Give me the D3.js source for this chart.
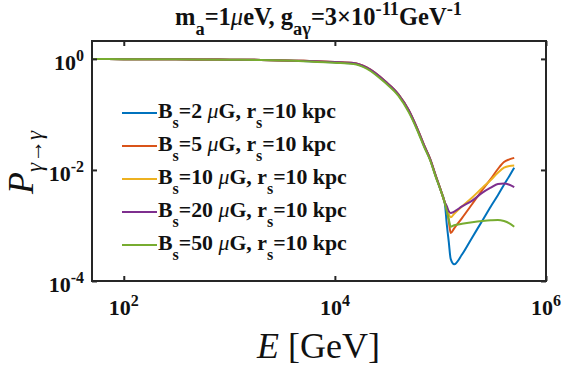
<!DOCTYPE html>
<html><head><meta charset="utf-8">
<script src="https://cdn.jsdelivr.net/npm/d3@7"></script>
<style>
html,body{margin:0;padding:0;background:#fff;}
svg{display:block;}
</style></head>
<body><svg id="c" width="567" height="367"></svg>
<script>
// ---- data ----
const energy = [50, 100, 200, 500, 1000, 2000, 5000, 1e4, 1.5e4, 2e4, 3e4, 4e4, 5e4, 6e4, 7e4, 8e4, 9e4,
  1e5, 1.1e5, 1.15e5, 1.2e5, 1.25e5, 1.35e5, 1.6e5, 2e5, 2.5e5, 3e5, 3.5e5, 4e5, 4.5e5, 5e5];
const Bvalues = ["2","5","10","20","50"];
const rValue = "10";
const pBlue = [0.995,0.99,0.985,0.98,0.97,0.96,0.92,0.865,0.83,0.69,0.385,0.224,0.116,0.055,0.027,0.0152,0.0078,
  0.0044,0.0025,0.00102,5.0e-4,2.5e-4,2.0e-4,3.0e-4,6.1e-4,0.00123,0.0022,0.0035,0.0054,0.0078,0.011];
const pOrange = [0.995,0.99,0.985,0.98,0.97,0.96,0.925,0.875,0.84,0.70,0.395,0.23,0.12,0.057,0.028,0.0157,0.0080,
  0.0045,0.0026,0.0019,0.0012,7.3e-4,8.9e-4,0.00136,0.00244,0.0044,0.0069,0.0104,0.0139,0.0155,0.0165];
const pYellow = [0.995,0.99,0.985,0.98,0.97,0.96,0.922,0.87,0.835,0.695,0.39,0.227,0.118,0.056,0.0275,0.0154,0.0079,
  0.0045,0.0026,0.0021,0.0016,0.0014,0.00163,0.0022,0.0032,0.0048,0.0066,0.0089,0.011,0.0118,0.012];
const pPurple = [0.995,0.99,0.985,0.98,0.97,0.96,0.925,0.875,0.84,0.70,0.395,0.23,0.12,0.057,0.028,0.0157,0.0080,
  0.0045,0.0026,0.0022,0.0018,0.00168,0.00178,0.0022,0.0028,0.0039,0.0048,0.0056,0.0057,0.0054,0.0049];
const pGreen = [0.995,0.99,0.985,0.98,0.97,0.955,0.91,0.85,0.81,0.67,0.37,0.215,0.11,0.053,0.026,0.0148,0.0076,
  0.0044,0.0025,0.0018,0.0013,9.5e-4,0.00101,0.00107,0.00114,0.0012,0.00124,0.00126,0.0012,0.00109,9.5e-4];
const seriesValues = [pBlue, pOrange, pYellow, pPurple, pGreen];
const colors = ["#0072BD","#D95319","#EDB120","#7E2F8E","#77AC30"];
const xTicks = [1e2, 1e4, 1e6];
const xTickExp = ["2","4","6"];
const yTicks = [1, 1e-2, 1e-4];
const yTickExp = ["0","-2","-4"];

// ---- layout ----
const L=92, R=546, T=41, B=281;
const svg = d3.select("#c");
const x = d3.scaleLog().domain([50, 1e6]).range([L, R]);
const y = d3.scaleLog().domain([1e-4, 2.1]).range([B, T]);
const axisCol = "#262626";
const serif = "Liberation Serif";
const ink = "#111";
function boldText(sel){
  return sel.attr("font-family", serif).attr("font-weight","bold").attr("fill", ink);
}
function fitWidth(sel, targetW, ax, ay, s){
  if (s === undefined) { const bb = sel.node().getBBox(); s = targetW / bb.width; }
  sel.attr("transform", `translate(${ax},${ay}) scale(${s}) translate(${-ax},${-ay})`);
  return s;
}

// lines
const line = d3.line().x((d,i)=>x(energy[i])).y(d=>y(d)).curve(d3.curveMonotoneX);
seriesValues.forEach((vals,k)=>{
  svg.append("path").attr("d", line(vals)).attr("fill","none")
    .attr("stroke", colors[k]).attr("stroke-width", 2).attr("stroke-linejoin","round");
});

// axes (ticks inward, box)
const tl = 5;
svg.append("g").attr("transform",`translate(0,${B})`)
  .call(d3.axisBottom(x).tickValues(xTicks).tickSize(-tl).tickFormat(""));
svg.append("g").attr("transform",`translate(0,${T})`)
  .call(d3.axisTop(x).tickValues(xTicks).tickSize(-tl).tickFormat(""));
svg.append("g").attr("transform",`translate(${L},0)`)
  .call(d3.axisLeft(y).tickValues(yTicks).tickSize(-tl).tickFormat(""));
svg.append("g").attr("transform",`translate(${R},0)`)
  .call(d3.axisRight(y).tickValues(yTicks).tickSize(-tl).tickFormat(""));
svg.selectAll(".domain").remove();
svg.selectAll(".tick line").attr("stroke", axisCol).attr("stroke-width", 2);
svg.append("rect").attr("x",L).attr("y",T).attr("width",R-L).attr("height",B-T)
  .attr("fill","none").attr("stroke",axisCol).attr("stroke-width",2);

// tick labels
xTicks.forEach((v,i)=>{
  const t = boldText(svg.append("text")).attr("x", x(v)).attr("y", B+34).attr("text-anchor","middle")
    .attr("font-size",22);
  t.append("tspan").text("10");
  t.append("tspan").attr("dy",-9).attr("font-size",16).text(xTickExp[i]);
});
yTicks.forEach((v,i)=>{
  const t = boldText(svg.append("text")).attr("x", L-8).attr("y", y(v)+11).attr("text-anchor","end")
    .attr("font-size",22);
  t.append("tspan").text("10");
  t.append("tspan").attr("dy",-9).attr("font-size",16).text(yTickExp[i]);
});

// title
{
  const tx = 318.5, ty = 25;
  const t = boldText(svg.append("text")).attr("x", tx).attr("y", ty).attr("text-anchor","middle")
    .attr("font-size",20);
  t.append("tspan").text("m");
  t.append("tspan").attr("dy",8).attr("font-size",15).text("a");
  t.append("tspan").attr("dy",-8).text("=1");
  t.append("tspan").attr("font-style","italic").attr("font-weight","normal").text("μ");
  t.append("tspan").text("eV, g");
  t.append("tspan").attr("dy",8).attr("font-size",15).text("aγ");
  t.append("tspan").attr("dy",-8).text("=3×10");
  t.append("tspan").attr("dy",-8).attr("font-size",15).text("-11");
  t.append("tspan").attr("dy",8).text("GeV");
  t.append("tspan").attr("dy",-8).attr("font-size",15).text("-1");
  fitWidth(t, 287, tx, ty);
}

// x label
{
  const t = svg.append("text").attr("x", 318.5).attr("y", 358).attr("text-anchor","middle")
    .attr("font-family", serif).attr("font-size",36).attr("fill",ink);
  t.append("tspan").attr("font-style","italic").text("E");
  t.append("tspan").text(" [GeV]");
}
// y label
{
  const t = svg.append("text").attr("transform",`translate(33,162.5) rotate(-90)`)
    .attr("text-anchor","middle").attr("font-family", serif).attr("font-size",36).attr("fill",ink);
  t.append("tspan").attr("font-style","italic").text("P");
  t.append("tspan").attr("dy",9).attr("font-size",23).attr("font-style","italic").text("γ→γ");
}

// legend
const legY0 = 113, legDy = 33;
let legScale;
Bvalues.forEach((bv,k)=>{
  const yy = legY0 + k*legDy;
  svg.append("line").attr("x1",122).attr("x2",157).attr("y1",yy).attr("y2",yy)
    .attr("stroke",colors[k]).attr("stroke-width",2);
  const t = boldText(svg.append("text")).attr("x",158).attr("y",yy+5).attr("font-size",19);
  t.append("tspan").text("B");
  t.append("tspan").attr("dy",9).attr("font-size",14).text("s");
  t.append("tspan").attr("dy",-9).text("=" + bv + " ");
  t.append("tspan").attr("font-style","italic").attr("font-weight","normal").text("μ");
  t.append("tspan").text("G, r");
  t.append("tspan").attr("dy",9).attr("font-size",14).text("s");
  t.append("tspan").attr("dy",-9).text("=" + rValue + " kpc");
  legScale = fitWidth(t, 178, 158, yy+5, k === 0 ? undefined : legScale);
});
</script></body></html>
